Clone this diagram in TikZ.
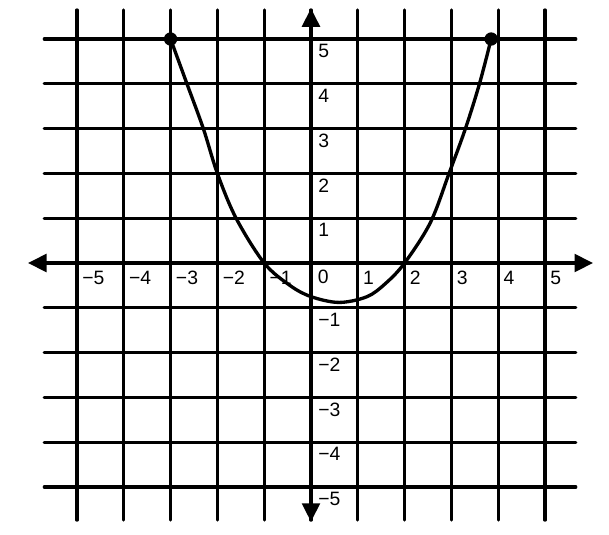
\documentclass[tikz,border=0pt]{standalone}
\usepackage{fontspec}
\setmainfont{Liberation Sans}
\usetikzlibrary{arrows.meta}
\begin{document}
\begin{tikzpicture}[x=35.1pt,y=33.6pt,
  gridline/.style={line width=2.3pt, line cap=round},
  axisline/.style={line width=3.2pt, {Triangle[length=14pt,width=13pt]}-{Triangle[length=14pt,width=13pt]}},
  curveline/.style={line width=2.5pt, line cap=round},
  lab/.style={anchor=west, inner sep=0pt, font=\fontsize{14.5}{14.5}\selectfont},
  ptdot/.style={circle, fill, inner sep=0pt, minimum size=10pt}]
\useasboundingbox (-6.645,-6.071) rectangle (6.368,5.871);
% grid
\foreach \i in {-5,...,5} {
  \draw[gridline] (\i,-5.74) -- (\i,5.65);
  \draw[gridline] (-5.70,\i) -- (5.66,\i);
}
% axes
\coordinate (xl) at (-6.05,0);
\coordinate (xr) at (6.03,0);
\coordinate (yt) at (0,5.69);
\coordinate (yb) at (0,-5.78);
\draw[axisline] (xl) -- (xr);
\draw[axisline] (yb) -- (yt);
% x labels
\foreach \v/\t in {-5/−5,-4/−4,-3/−3,-2/−2,-1/−1,1/1,2/2,3/3,4/4,5/5}
  \node[lab] (xlab\v) at (\v+0.11,-0.34) {\t};
\node[lab] (origin) at (0.14,-0.31) {0};
% y labels
\foreach \v/\t in {5/5,4/4,3/3,2/2,1/1,-1/−1,-2/−2,-3/−3,-4/−4,-5/−5}
  \node[lab] (ylab\v) at (0.15,\v-0.27) {\t};
% parabola
\draw[curveline] plot[smooth, tension=0.55] coordinates {
  (-3,5) (-2.65,4) (-2.3,3) (-2.0,2) (-1.6,1) (-1,0) (-0.45,-0.5) (0,-0.75)
  (0.6,-0.88) (1.2,-0.75) (1.6,-0.45) (2,0) (2.55,0.9) (2.95,2) (3.3,3) (3.6,4) (3.85,5)};
\node[ptdot] (pl) at (-3,5) {};
\node[ptdot] (pr) at (3.85,5) {};
\end{tikzpicture}
\end{document}
